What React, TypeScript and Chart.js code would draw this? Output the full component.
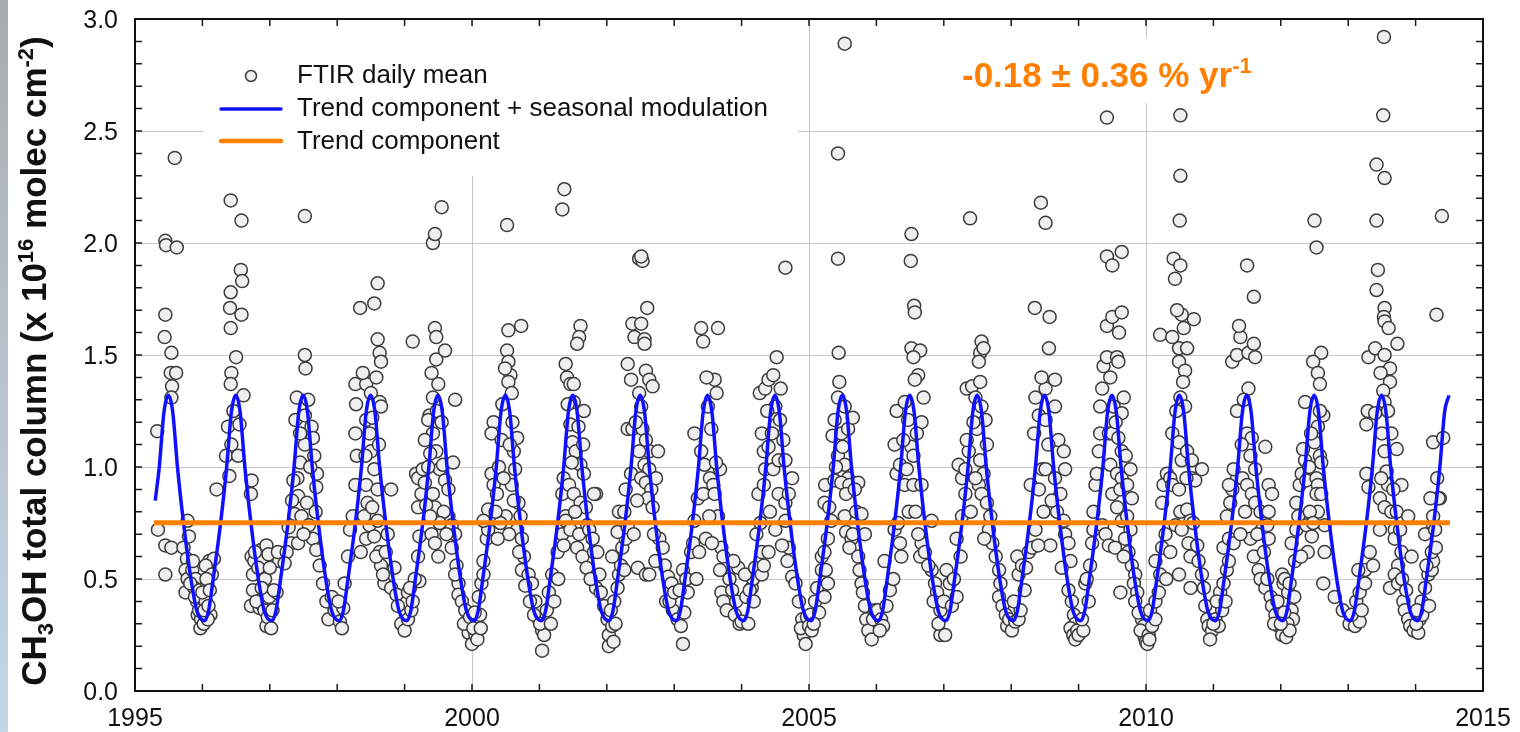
import React, { useEffect, useRef } from "react";
import { Chart, registerables } from "chart.js";

Chart.register(...registerables);

// ---------- axes ----------
const X_MIN = 1995;
const X_MAX = 2015;
const Y_MIN = 0;
const Y_MAX = 3;
const xTickLabels = [1995, 2000, 2005, 2010, 2015];
const yTickLabels = [0, 0.5, 1.0, 1.5, 2.0, 2.5, 3.0];
const xGridValues = [2000, 2005, 2010];
const yGridValues = [0.5, 1.0, 1.5, 2.0, 2.5];

// ---------- fitted curves ----------
// one seasonal cycle of "trend + seasonal modulation": phase within the year, value
const seasonalPhase = [0.03, 0.09, 0.16, 0.27, 0.36, 0.43, 0.495, 0.56, 0.63, 0.72, 0.83, 0.92];
const seasonalValue = [0.314, 0.355, 0.5, 0.75, 1.0, 1.245, 1.32, 1.245, 1.0, 0.75, 0.5, 0.355];
const curveYears = [1995, 1996, 1997, 1998, 1999, 2000, 2001, 2002, 2003, 2004, 2005, 2006, 2007, 2008, 2009, 2010, 2011, 2012, 2013, 2014];
const curveStart = [1995.3, 0.85];
const curveEndYear = 2014.5;
const trendX = [1995.28, 2014.51];
const trendY = [0.751, 0.751];

// ---------- FTIR daily means [decimal year, value] ----------
const ftir1995 = [[1995.33,1.16],[1995.34,0.72],[1995.44,1.58],[1995.45,1.68],[1995.45,2.01],[1995.46,1.99],[1995.59,2.38],[1995.62,1.98],[1995.54,1.51],[1995.53,1.42],[1995.61,1.42],[1995.55,1.36],[1995.54,1.31],[1995.45,0.65],[1995.54,0.64],[1995.45,0.52],[1995.78,0.76],[1995.80,0.69],[1995.72,0.64],[1995.77,0.59],[1995.75,0.54],[1995.78,0.50],[1995.75,0.44],[1995.85,0.54],[1995.90,0.50],[1995.92,0.40],[1995.93,0.34],[1995.98,0.32],[1995.95,0.36],[1995.88,0.46],[1995.82,0.48],[1995.86,0.58],[1995.89,0.42],[1995.96,0.45],[1995.97,0.28]];
const ftir1996 = [[1996.02,0.30],[1996.05,0.40],[1996.07,0.48],[1996.10,0.58],[1996.17,0.59],[1996.05,0.56],[1996.21,0.90],[1996.00,0.44],[1996.12,0.34],[1996.08,0.32],[1996.14,0.52],[1996.42,2.19],[1996.58,2.10],[1996.57,1.88],[1996.59,1.83],[1996.42,1.78],[1996.41,1.71],[1996.58,1.68],[1996.42,1.62],[1996.50,1.49],[1996.43,1.42],[1996.42,1.37],[1996.61,1.32],[1996.38,1.18],[1996.43,1.10],[1996.55,1.19],[1996.73,0.94],[1996.72,0.88],[1996.73,0.60],[1996.77,0.58],[1996.75,0.52],[1996.87,0.63],[1996.95,0.65],[1996.72,0.38],[1996.85,0.37],[1996.95,0.29],[1996.87,0.39],[1996.75,0.45],[1996.90,0.58],[1996.98,0.61],[1996.93,0.50],[1996.99,0.42],[1996.03,0.36],[1996.06,0.50],[1996.11,0.45],[1996.09,0.38],[1996.78,0.62],[1996.80,0.40],[1996.83,0.55],[1996.88,0.46],[1996.92,0.36],[1996.97,0.33],[1996.35,1.05],[1996.40,0.96],[1996.46,1.25],[1996.53,1.05]];
const ftir1997 = [[1997.02,0.28],[1997.04,0.36],[1997.10,0.44],[1997.14,0.58],[1997.12,0.62],[1997.06,0.45],[1997.00,0.55],[1997.52,2.12],[1997.52,1.50],[1997.53,1.44],[1997.40,1.31],[1997.38,1.21],[1997.52,1.23],[1997.62,1.18],[1997.64,1.13],[1997.52,1.10],[1997.41,0.95],[1997.42,0.87],[1997.55,0.84],[1997.70,0.97],[1997.69,0.91],[1997.68,0.80],[1997.28,0.73],[1997.32,0.66],[1997.37,0.79],[1997.42,0.66],[1997.25,0.62],[1997.22,0.57],[1997.64,0.68],[1997.69,0.63],[1997.74,0.56],[1997.79,0.48],[1997.84,0.40],[1997.87,0.32],[1997.92,0.42],[1997.96,0.36],[1997.35,0.94],[1997.45,1.02],[1997.33,0.85],[1997.47,0.78],[1997.58,0.74],[1997.60,1.00],[1997.45,1.15],[1997.57,1.30],[1997.66,1.05],[1997.50,0.70]];
const ftir1998 = [[1998.04,0.31],[1998.09,0.37],[1998.11,0.48],[1998.16,0.60],[1998.19,0.72],[1998.23,0.78],[1998.27,0.92],[1998.29,1.05],[1998.27,1.15],[1998.28,1.28],[1998.27,1.37],[1998.34,1.71],[1998.43,1.37],[1998.55,1.73],[1998.60,1.82],[1998.60,1.57],[1998.63,1.51],[1998.65,1.47],[1998.50,1.33],[1998.63,1.29],[1998.65,1.27],[1998.43,1.21],[1998.48,1.15],[1998.50,1.07],[1998.55,0.99],[1998.43,0.92],[1998.60,0.90],[1998.45,0.84],[1998.80,0.90],[1998.48,0.74],[1998.60,0.76],[1998.43,0.68],[1998.55,0.69],[1998.63,0.62],[1998.65,0.56],[1998.70,0.48],[1998.85,0.55],[1998.68,0.52],[1998.80,0.46],[1998.88,0.43],[1998.90,0.38],[1998.95,0.30],[1998.02,0.40],[1998.07,0.28],[1998.38,1.42],[1998.42,1.05],[1998.52,1.22],[1998.58,1.40],[1998.62,1.10],[1998.40,0.78],[1998.52,0.82],[1998.58,0.60],[1998.35,0.62],[1998.72,0.62],[1998.75,0.70]];
const ftir1999 = [[1999.00,0.27],[1999.05,0.32],[1999.10,0.36],[1999.05,0.44],[1999.12,0.40],[1999.12,1.56],[1999.22,0.49],[1999.20,0.60],[1999.22,0.69],[1999.20,0.82],[1999.27,0.94],[1999.25,0.88],[1999.37,1.23],[1999.35,1.21],[1999.42,2.00],[1999.45,2.04],[1999.55,2.16],[1999.45,1.62],[1999.47,1.58],[1999.47,1.48],[1999.60,1.52],[1999.50,1.37],[1999.42,1.31],[1999.75,1.30],[1999.42,1.15],[1999.47,1.07],[1999.52,0.99],[1999.57,1.01],[1999.42,0.88],[1999.45,0.82],[1999.60,0.94],[1999.65,0.90],[1999.72,1.02],[1999.65,0.78],[1999.70,0.74],[1999.75,0.70],[1999.70,0.64],[1999.77,0.56],[1999.80,0.48],[1999.75,0.52],[1999.80,0.43],[1999.85,0.40],[1999.90,0.36],[1999.92,0.31],[1999.95,0.26],[1999.17,0.97],[1999.20,0.95],[1999.27,0.99],[1999.30,0.93],[1999.32,0.83],[1999.35,1.00],[1999.38,1.06],[1999.30,1.12],[1999.40,0.70],[1999.45,0.66],[1999.50,0.60],[1999.40,1.42],[1999.48,1.25],[1999.55,1.20],[1999.58,0.80],[1999.62,0.70],[1999.52,0.75],[1999.38,0.78],[1999.15,0.50],[1999.08,0.46],[1999.88,0.30],[1999.97,0.33]];
const ftir2000 = [[2000.00,0.21],[2000.05,0.25],[2000.07,0.32],[2000.12,0.34],[2000.10,0.42],[2000.14,0.48],[2000.17,0.52],[2000.17,0.58],[2000.22,0.68],[2000.24,0.72],[2000.24,0.81],[2000.17,0.76],[2000.32,1.20],[2000.29,1.15],[2000.29,0.97],[2000.32,0.92],[2000.37,0.88],[2000.52,2.08],[2000.54,1.61],[2000.73,1.63],[2000.52,1.52],[2000.54,1.47],[2000.57,1.41],[2000.49,1.44],[2000.54,1.38],[2000.59,1.33],[2000.67,1.13],[2000.62,1.07],[2000.64,0.99],[2000.59,0.92],[2000.69,0.84],[2000.72,0.78],[2000.67,0.72],[2000.74,0.68],[2000.77,0.60],[2000.74,0.54],[2000.84,0.52],[2000.89,0.48],[2000.94,0.40],[2000.99,0.32],[2000.40,1.00],[2000.45,1.28],[2000.47,0.95],[2000.50,0.78],[2000.55,0.70],[2000.60,1.20],[2000.42,0.75],[2000.38,0.68],[2000.02,0.28],[2000.08,0.23],[2000.35,0.80],[2000.44,1.12],[2000.56,1.10],[2000.62,0.85],[2000.70,0.62],[2000.79,0.47],[2000.86,0.40],[2000.92,0.34],[2000.04,0.35],[2000.13,0.28]];
const ftir2001 = [[2001.04,0.27],[2001.04,0.18],[2001.11,0.36],[2001.14,0.44],[2001.19,0.52],[2001.27,0.62],[2001.34,0.70],[2001.39,0.78],[2001.34,0.88],[2001.36,0.95],[2001.39,1.46],[2001.61,1.63],[2001.34,2.15],[2001.37,2.24],[2001.41,1.40],[2001.46,1.37],[2001.51,1.37],[2001.59,1.58],[2001.56,1.55],[2001.51,1.29],[2001.66,1.25],[2001.46,1.19],[2001.49,1.11],[2001.54,1.07],[2001.61,1.01],[2001.66,0.97],[2001.44,0.92],[2001.51,0.88],[2001.61,0.84],[2001.69,0.82],[2001.39,0.76],[2001.46,0.72],[2001.59,0.70],[2001.71,0.74],[2001.56,0.64],[2001.64,0.60],[2001.36,0.65],[2001.74,0.72],[2001.79,0.68],[2001.81,0.62],[2001.84,0.88],[2001.81,0.88],[2001.86,0.62],[2001.89,0.52],[2001.84,0.46],[2001.91,0.44],[2001.96,0.38],[2001.07,0.25],[2001.01,0.30],[2001.48,1.02],[2001.53,0.80],[2001.42,1.28],[2001.58,1.18],[2001.65,1.10],[2001.22,0.40],[2001.28,0.50],[2001.17,0.30],[2001.70,0.55],[2001.76,0.50]];
const ftir2002 = [[2002.01,0.32],[2002.03,0.25],[2002.03,0.20],[2002.08,0.29],[2002.11,0.40],[2002.16,0.46],[2002.06,0.36],[2002.18,0.52],[2002.21,0.56],[2002.26,0.54],[2002.23,0.64],[2002.28,0.68],[2002.16,0.71],[2002.08,0.60],[2002.18,0.80],[2002.31,0.73],[2002.26,0.80],[2002.28,0.90],[2002.36,0.97],[2002.31,1.17],[2002.38,1.17],[2002.31,1.46],[2002.36,1.39],[2002.38,1.64],[2002.51,1.64],[2002.41,1.58],[2002.56,1.57],[2002.56,1.55],[2002.60,1.71],[2002.48,1.93],[2002.53,1.92],[2002.51,1.94],[2002.58,1.43],[2002.63,1.39],[2002.68,1.36],[2002.48,1.33],[2002.51,1.27],[2002.53,1.17],[2002.58,1.12],[2002.63,1.07],[2002.48,1.07],[2002.56,1.01],[2002.63,0.99],[2002.76,1.07],[2002.51,0.95],[2002.58,0.93],[2002.66,0.90],[2002.73,0.95],[2002.61,0.86],[2002.68,0.82],[2002.46,0.55],[2002.58,0.52],[2002.63,0.52],[2002.78,0.68],[2002.83,0.64],[2002.86,0.56],[2002.91,0.51],[2002.96,0.48],[2002.88,0.40],[2002.98,0.36],[2002.43,1.20],[2002.45,0.85],[2002.40,0.70],[2002.70,0.70],[2002.72,0.58],[2002.93,0.40],[2002.13,0.30],[2002.10,0.22]];
const ftir2003 = [[2003.00,0.44],[2003.05,0.32],[2003.10,0.29],[2003.13,0.21],[2003.13,0.54],[2003.18,0.50],[2003.20,0.44],[2003.25,0.62],[2003.28,0.66],[2003.30,0.76],[2003.30,1.15],[2003.40,1.62],[2003.43,1.56],[2003.65,1.62],[2003.60,1.39],[2003.63,1.33],[2003.50,1.27],[2003.55,1.17],[2003.40,1.07],[2003.45,1.01],[2003.53,0.95],[2003.58,0.92],[2003.68,0.99],[2003.35,0.86],[2003.43,0.88],[2003.60,0.88],[2003.65,0.78],[2003.70,0.64],[2003.73,0.60],[2003.68,0.54],[2003.70,0.44],[2003.73,0.40],[2003.78,0.36],[2003.90,0.34],[2003.82,0.50],[2003.86,0.45],[2003.92,0.40],[2003.95,0.55],[2003.88,0.58],[2003.48,1.40],[2003.52,0.78],[2003.47,0.68],[2003.56,0.66],[2003.62,1.02],[2003.37,0.62],[2003.33,0.50],[2003.15,0.35],[2003.08,0.45],[2003.97,0.30]];
const ftir2004 = [[2004.00,0.31],[2004.10,0.30],[2004.07,0.42],[2004.15,0.46],[2004.17,0.50],[2004.05,0.52],[2004.12,0.45],[2004.20,0.55],[2004.22,0.70],[2004.18,0.40],[2004.30,0.52],[2004.33,0.56],[2004.30,0.62],[2004.28,0.75],[2004.25,0.88],[2004.33,0.92],[2004.35,0.99],[2004.30,1.15],[2004.33,1.07],[2004.40,1.09],[2004.27,1.33],[2004.35,1.35],[2004.40,1.39],[2004.47,1.41],[2004.52,1.49],[2004.65,1.89],[2004.50,1.27],[2004.52,1.19],[2004.57,1.21],[2004.47,0.99],[2004.55,1.03],[2004.65,1.03],[2004.75,0.95],[2004.55,0.88],[2004.65,0.84],[2004.70,0.88],[2004.65,0.76],[2004.70,0.64],[2004.68,0.58],[2004.75,0.51],[2004.80,0.48],[2004.85,0.40],[2004.90,0.32],[2004.92,0.25],[2004.95,0.21],[2004.38,1.25],[2004.45,1.15],[2004.42,0.80],[2004.50,0.72],[2004.60,0.65],[2004.62,1.12],[2004.58,1.35],[2004.40,0.62],[2004.88,0.28],[2004.97,0.33]];
const ftir2005 = [[2005.00,0.29],[2005.02,0.34],[2005.04,0.27],[2005.09,0.40],[2005.12,0.46],[2005.19,0.54],[2005.19,0.60],[2005.24,0.92],[2005.53,2.89],[2005.43,2.40],[2005.43,1.93],[2005.44,1.51],[2005.43,1.31],[2005.53,1.27],[2005.38,1.21],[2005.35,1.14],[2005.48,1.15],[2005.58,1.17],[2005.65,1.22],[2005.43,1.05],[2005.50,1.09],[2005.53,1.01],[2005.58,0.95],[2005.38,0.94],[2005.48,0.93],[2005.60,0.92],[2005.73,0.93],[2005.23,0.84],[2005.30,0.82],[2005.33,0.76],[2005.53,0.78],[2005.55,0.71],[2005.63,0.68],[2005.60,0.64],[2005.65,0.70],[2005.70,0.80],[2005.78,0.79],[2005.83,0.70],[2005.28,0.68],[2005.23,0.62],[2005.25,0.54],[2005.28,0.48],[2005.23,0.42],[2005.73,0.60],[2005.75,0.54],[2005.78,0.48],[2005.80,0.44],[2005.83,0.38],[2005.85,0.32],[2005.88,0.27],[2005.93,0.23],[2005.95,0.32],[2005.98,0.36],[2005.15,0.35],[2005.07,0.30],[2005.45,1.38],[2005.40,1.00],[2005.55,0.88],[2005.68,0.90]];
const ftir2006 = [[2006.02,0.36],[2006.07,0.32],[2006.10,0.29],[2006.15,0.38],[2006.12,0.58],[2006.27,0.72],[2006.32,0.75],[2006.35,0.66],[2006.37,0.60],[2006.30,0.97],[2006.35,1.01],[2006.42,0.92],[2006.27,1.10],[2006.30,1.25],[2006.42,1.29],[2006.47,1.21],[2006.52,2.04],[2006.51,1.92],[2006.56,1.72],[2006.57,1.69],[2006.52,1.53],[2006.65,1.52],[2006.55,1.49],[2006.62,1.41],[2006.57,1.39],[2006.70,1.31],[2006.67,1.20],[2006.52,1.09],[2006.55,1.05],[2006.45,0.99],[2006.55,0.92],[2006.67,0.92],[2006.67,0.66],[2006.65,0.60],[2006.72,0.62],[2006.82,0.76],[2006.82,0.54],[2006.87,0.48],[2006.90,0.44],[2006.95,0.36],[2006.95,0.25],[2006.05,0.27],[2006.20,0.45],[2006.40,1.12],[2006.48,0.80],[2006.58,0.80],[2006.60,1.15],[2006.62,0.70],[2006.77,0.56],[2006.85,0.40],[2006.92,0.30],[2006.25,0.50]];
const ftir2007 = [[2007.04,0.54],[2007.09,0.48],[2007.00,0.40],[2007.12,0.38],[2007.19,0.42],[2007.19,0.68],[2007.27,0.78],[2007.32,0.88],[2007.27,0.95],[2007.22,1.01],[2007.32,0.99],[2007.37,1.07],[2007.34,1.12],[2007.34,1.35],[2007.42,1.36],[2007.47,1.31],[2007.39,2.11],[2007.54,1.51],[2007.56,1.56],[2007.59,1.53],[2007.52,1.47],[2007.54,1.38],[2007.56,1.27],[2007.62,1.21],[2007.49,1.17],[2007.54,1.03],[2007.59,0.97],[2007.52,0.92],[2007.56,0.88],[2007.64,0.84],[2007.69,0.78],[2007.67,0.72],[2007.72,0.66],[2007.77,0.60],[2007.82,0.54],[2007.84,0.48],[2007.82,0.42],[2007.87,0.38],[2007.92,0.34],[2007.94,0.29],[2007.02,0.25],[2007.44,1.20],[2007.47,0.95],[2007.40,0.80],[2007.60,0.68],[2007.64,1.10],[2007.97,0.32],[2007.15,0.50],[2007.25,0.60]];
const ftir2008 = [[2008.01,0.27],[2008.06,0.31],[2008.11,0.32],[2008.14,0.36],[2008.11,0.52],[2008.09,0.60],[2008.16,0.56],[2008.26,0.62],[2008.31,0.64],[2008.36,0.72],[2008.29,0.92],[2008.41,0.90],[2008.46,0.99],[2008.51,0.99],[2008.34,1.15],[2008.41,1.23],[2008.51,1.21],[2008.36,1.31],[2008.51,1.35],[2008.44,2.18],[2008.51,2.09],[2008.35,1.71],[2008.57,1.67],[2008.56,1.53],[2008.65,1.39],[2008.65,1.27],[2008.70,1.12],[2008.78,1.07],[2008.80,0.99],[2008.65,0.95],[2008.73,0.88],[2008.68,0.80],[2008.78,0.76],[2008.80,0.70],[2008.85,0.66],[2008.88,0.58],[2008.90,0.40],[2008.93,0.34],[2008.95,0.30],[2008.88,0.28],[2008.92,0.25],[2008.95,0.23],[2008.98,0.27],[2008.04,0.40],[2008.20,0.45],[2008.45,1.40],[2008.55,1.10],[2008.60,0.85],[2008.48,0.80],[2008.58,0.65],[2008.40,0.65],[2008.75,0.55],[2008.85,0.45],[2008.22,0.55]];
const ftir2009 = [[2009.00,0.25],[2009.07,0.27],[2009.05,0.32],[2009.10,0.48],[2009.12,0.50],[2009.17,0.56],[2009.20,0.66],[2009.22,0.72],[2009.22,0.80],[2009.25,0.92],[2009.27,0.97],[2009.30,1.07],[2009.35,0.74],[2009.40,0.70],[2009.32,1.15],[2009.32,1.27],[2009.35,1.35],[2009.37,1.45],[2009.42,1.49],[2009.45,1.15],[2009.42,1.63],[2009.50,1.67],[2009.64,1.69],[2009.42,1.94],[2009.50,1.90],[2009.64,1.96],[2009.42,2.56],[2009.57,1.49],[2009.59,1.47],[2009.52,1.27],[2009.67,1.31],[2009.64,1.24],[2009.50,1.15],[2009.59,1.13],[2009.64,1.07],[2009.47,1.01],[2009.57,0.97],[2009.64,0.95],[2009.77,0.99],[2009.50,0.88],[2009.62,0.90],[2009.72,0.92],[2009.79,0.86],[2009.57,0.82],[2009.64,0.76],[2009.72,0.78],[2009.77,0.72],[2009.45,0.65],[2009.54,0.64],[2009.62,0.44],[2009.69,0.68],[2009.74,0.62],[2009.79,0.56],[2009.84,0.52],[2009.82,0.48],[2009.87,0.44],[2009.84,0.40],[2009.94,0.32],[2009.97,0.29],[2009.98,0.24],[2009.47,1.40],[2009.55,1.20],[2009.60,1.60],[2009.70,1.05],[2009.67,0.60],[2009.89,0.35],[2009.92,0.27],[2009.15,0.40]];
const ftir2010 = [[2010.04,0.25],[2010.09,0.29],[2010.06,0.36],[2010.00,0.22],[2010.02,0.21],[2010.05,0.23],[2010.14,0.32],[2010.14,0.40],[2010.19,0.44],[2010.21,0.52],[2010.14,0.58],[2010.24,0.64],[2010.29,0.70],[2010.24,0.84],[2010.26,0.92],[2010.31,0.97],[2010.36,0.95],[2010.49,0.52],[2010.66,0.46],[2010.21,1.59],[2010.39,1.58],[2010.41,1.93],[2010.51,1.90],[2010.43,1.84],[2010.51,2.57],[2010.51,2.30],[2010.50,2.10],[2010.49,1.53],[2010.56,1.62],[2010.71,1.66],[2010.53,1.68],[2010.61,1.53],[2010.49,1.47],[2010.58,1.43],[2010.51,1.31],[2010.58,1.27],[2010.39,1.15],[2010.49,1.11],[2010.53,1.03],[2010.61,1.07],[2010.68,1.03],[2010.39,0.92],[2010.49,0.90],[2010.51,0.80],[2010.61,0.81],[2010.66,0.76],[2010.44,0.74],[2010.53,0.72],[2010.63,0.66],[2010.68,0.95],[2010.73,0.94],[2010.83,0.99],[2010.66,0.60],[2010.78,0.58],[2010.83,0.52],[2010.86,0.46],[2010.88,0.38],[2010.91,0.32],[2010.93,0.29],[2010.98,0.27],[2010.45,1.25],[2010.55,1.38],[2010.46,1.70],[2010.60,0.95],[2010.70,0.75],[2010.76,0.65],[2010.95,0.23],[2010.30,0.50],[2010.36,0.62]];
const ftir2011 = [[2011.03,0.32],[2011.08,0.29],[2011.13,0.36],[2011.10,0.44],[2011.15,0.48],[2011.20,0.54],[2011.23,0.58],[2011.15,0.64],[2011.23,0.68],[2011.30,0.66],[2011.20,0.78],[2011.25,0.84],[2011.28,0.90],[2011.35,0.95],[2011.30,0.99],[2011.23,0.92],[2011.35,1.25],[2011.28,1.47],[2011.35,1.50],[2011.40,1.58],[2011.38,1.63],[2011.50,1.90],[2011.60,1.76],[2011.52,1.51],[2011.60,1.55],[2011.62,1.49],[2011.52,1.35],[2011.50,1.15],[2011.57,1.13],[2011.55,1.05],[2011.62,0.99],[2011.43,0.95],[2011.50,0.92],[2011.57,0.88],[2011.62,0.84],[2011.70,0.80],[2011.82,0.80],[2011.72,0.72],[2011.80,0.74],[2011.82,0.68],[2011.55,0.68],[2011.60,0.60],[2011.67,0.54],[2011.77,1.09],[2011.82,0.92],[2011.87,0.88],[2011.70,0.50],[2011.77,0.46],[2011.85,0.42],[2011.87,0.38],[2011.92,0.34],[2011.97,0.29],[2011.05,0.40],[2011.00,0.30],[2011.45,1.30],[2011.42,1.10],[2011.47,0.80],[2011.40,0.70],[2011.65,0.70],[2011.75,0.62],[2011.80,0.50],[2011.90,0.30],[2011.95,0.40],[2011.18,0.40]];
const ftir2012 = [[2012.02,0.25],[2012.04,0.48],[2012.02,0.52],[2012.06,0.50],[2012.11,0.44],[2012.13,0.48],[2012.16,0.36],[2012.18,0.32],[2012.08,0.24],[2012.21,0.58],[2012.16,0.66],[2012.23,0.72],[2012.26,0.78],[2012.23,0.84],[2012.28,0.92],[2012.31,0.97],[2012.36,1.03],[2012.38,0.74],[2012.46,0.69],[2012.33,1.08],[2012.38,0.94],[2012.36,1.29],[2012.50,2.10],[2012.53,1.98],[2012.60,1.51],[2012.48,1.47],[2012.55,1.42],[2012.58,1.37],[2012.63,1.23],[2012.55,1.18],[2012.50,1.11],[2012.58,1.05],[2012.60,1.02],[2012.53,0.95],[2012.55,0.92],[2012.53,0.88],[2012.55,0.80],[2012.43,0.80],[2012.65,0.74],[2012.65,0.62],[2012.63,0.48],[2012.80,0.42],[2012.92,0.36],[2012.10,0.30],[2012.13,0.27],[2012.45,1.15],[2012.42,1.00],[2012.48,0.75],[2012.60,0.88],[2012.58,1.25],[2012.40,0.62],[2012.30,0.60],[2012.05,0.35],[2012.20,0.42],[2012.00,0.30]];
const ftir2013 = [[2013.02,0.30],[2013.10,0.29],[2013.17,0.31],[2013.12,0.40],[2013.17,0.44],[2013.25,0.48],[2013.25,0.54],[2013.15,0.54],[2013.37,0.56],[2013.27,0.97],[2013.30,0.91],[2013.29,1.25],[2013.27,1.19],[2013.40,1.24],[2013.30,1.49],[2013.40,1.53],[2013.42,2.10],[2013.42,2.35],[2013.54,2.29],[2013.53,2.92],[2013.52,2.57],[2013.44,1.88],[2013.42,1.79],[2013.54,1.71],[2013.53,1.67],[2013.54,1.65],[2013.73,1.55],[2013.54,1.50],[2013.62,1.44],[2013.62,1.38],[2013.52,1.34],[2013.54,1.29],[2013.59,1.25],[2013.64,1.15],[2013.72,1.08],[2013.54,1.07],[2013.79,0.92],[2013.59,0.92],[2013.47,0.86],[2013.54,0.82],[2013.64,0.80],[2013.69,0.72],[2013.72,0.80],[2013.47,0.72],[2013.69,0.68],[2013.79,0.62],[2013.74,0.56],[2013.69,0.52],[2013.89,0.78],[2013.94,0.60],[2013.62,0.46],[2013.74,0.48],[2013.82,0.40],[2013.84,0.36],[2013.89,0.32],[2013.92,0.29],[2013.97,0.27],[2013.05,0.34],[2013.48,1.42],[2013.50,1.15],[2013.57,0.98],[2013.49,0.95],[2013.60,1.62],[2013.67,0.90],[2013.77,0.72],[2013.80,0.50],[2013.86,0.45],[2013.20,0.36],[2013.32,0.62]];
const ftir2014 = [[2014.04,0.26],[2014.06,0.32],[2014.09,0.40],[2014.14,0.46],[2014.19,0.52],[2014.24,0.54],[2014.26,0.58],[2014.24,0.62],[2014.14,0.70],[2014.26,0.74],[2014.29,0.72],[2014.26,0.78],[2014.36,0.86],[2014.34,0.86],[2014.26,1.11],[2014.41,1.13],[2014.31,1.68],[2014.39,2.12],[2014.01,0.30],[2014.10,0.34],[2014.16,0.56],[2014.20,0.38],[2014.30,0.64],[2014.32,0.95],[2014.22,0.86],[2014.02,0.36]];

// ---------- texts ----------
const legendLabels = ["FTIR daily mean", "Trend component + seasonal modulation", "Trend component"];
const trendText = "-0.18 \u00B1 0.36 % yr";
const trendTextSup = "-1";

const W = 1520;
const H = 732;
const FONT = "'Liberation Sans', Arial, Helvetica, sans-serif";
const BLUE = "#1010ff";
const ORANGE = "#ff8000";

const allFtir = [
  ...ftir1995, ...ftir1996, ...ftir1997, ...ftir1998, ...ftir1999, ...ftir2000, ...ftir2001,
  ...ftir2002, ...ftir2003, ...ftir2004, ...ftir2005, ...ftir2006, ...ftir2007, ...ftir2008,
  ...ftir2009, ...ftir2010, ...ftir2011, ...ftir2012, ...ftir2013, ...ftir2014,
];

function buildCurve() {
  const pts: { x: number; y: number }[] = [{ x: curveStart[0], y: curveStart[1] }];
  for (const yr of curveYears) {
    for (let k = 0; k < seasonalPhase.length; k++) {
      const x = yr + seasonalPhase[k];
      if (x > curveStart[0] && x <= curveEndYear + 1e-9) pts.push({ x, y: seasonalValue[k] });
    }
  }
  return pts;
}

function drawRich(ctx: CanvasRenderingContext2D, segs: { t: string; size: number; dy: number }[], weight: string, x: number, y: number, align: "left" | "center") {
  let total = 0;
  for (const s of segs) {
    ctx.font = `${weight} ${s.size}px ${FONT}`;
    total += ctx.measureText(s.t).width;
  }
  let cx = align === "center" ? x - total / 2 : x;
  ctx.textAlign = "left";
  ctx.textBaseline = "alphabetic";
  for (const s of segs) {
    ctx.font = `${weight} ${s.size}px ${FONT}`;
    ctx.fillText(s.t, cx, y + s.dy);
    cx += ctx.measureText(s.t).width;
  }
}

const decorPlugin = {
  id: "decor",
  beforeDraw(chart: any) {
    const ctx = chart.ctx as CanvasRenderingContext2D;
    ctx.save();
    ctx.fillStyle = "#ffffff";
    ctx.fillRect(0, 0, W, H);
    const g = ctx.createLinearGradient(0, 0, 0, H);
    g.addColorStop(0, "#a7abae");
    g.addColorStop(0.35, "#b3bcc4");
    g.addColorStop(0.7, "#bccbd8");
    g.addColorStop(1, "#c3d6e8");
    ctx.fillStyle = g;
    ctx.fillRect(0, 0, 8, H);
    ctx.restore();
  },
  beforeDatasetsDraw(chart: any) {
    const ctx = chart.ctx as CanvasRenderingContext2D;
    const { left, right, top, bottom } = chart.chartArea;
    const xs = chart.scales.x;
    const ys = chart.scales.y;
    ctx.save();
    ctx.strokeStyle = "#c8c8c8";
    ctx.lineWidth = 1;
    for (const v of yGridValues) {
      const py = Math.round(ys.getPixelForValue(v)) + 0.5;
      ctx.beginPath();
      ctx.moveTo(left, py);
      ctx.lineTo(right, py);
      ctx.stroke();
    }
    for (const v of xGridValues) {
      const px = Math.round(xs.getPixelForValue(v)) + 0.5;
      ctx.beginPath();
      ctx.moveTo(px, top);
      ctx.lineTo(px, bottom);
      ctx.stroke();
    }
    // white boxes behind legend and annotation
    ctx.fillStyle = "#ffffff";
    ctx.fillRect(203, 27, 595, 149);
    ctx.fillRect(952, 38, 318, 65);
    ctx.restore();
  },
  afterDatasetsDraw(chart: any) {
    const ctx = chart.ctx as CanvasRenderingContext2D;
    const { left, right, top, bottom } = chart.chartArea;
    const xs = chart.scales.x;
    const ys = chart.scales.y;
    ctx.save();
    // ticks
    ctx.strokeStyle = "#1a1a1a";
    ctx.lineWidth = 1.5;
    const TL = 7;
    for (let yr = X_MIN + 1; yr < X_MAX; yr++) {
      const px = xs.getPixelForValue(yr);
      ctx.beginPath();
      ctx.moveTo(px, bottom);
      ctx.lineTo(px, bottom - TL);
      ctx.moveTo(px, top);
      ctx.lineTo(px, top + TL);
      ctx.stroke();
    }
    for (let i = 1; i < 30; i++) {
      const py = ys.getPixelForValue(i / 10);
      ctx.beginPath();
      ctx.moveTo(left, py);
      ctx.lineTo(left + TL, py);
      ctx.moveTo(right, py);
      ctx.lineTo(right - TL, py);
      ctx.stroke();
    }
    // frame
    ctx.lineWidth = 2;
    ctx.strokeStyle = "#111111";
    ctx.strokeRect(left, top, right - left, bottom - top);

    // tick labels
    ctx.fillStyle = "#111111";
    ctx.font = `25px ${FONT}`;
    ctx.textBaseline = "alphabetic";
    ctx.textAlign = "right";
    for (const v of yTickLabels) {
      ctx.fillText(v.toFixed(1), 118, ys.getPixelForValue(v) + 9);
    }
    ctx.textAlign = "center";
    for (const v of xTickLabels) {
      ctx.fillText(String(v), xs.getPixelForValue(v), 726);
    }

    // y axis title
    ctx.save();
    ctx.translate(46, 361);
    ctx.rotate(-Math.PI / 2);
    ctx.fillStyle = "#111111";
    const S = 35;
    const s2 = 22;
    drawRich(
      ctx,
      [
        { t: "CH", size: S, dy: 0 },
        { t: "3", size: s2, dy: 7 },
        { t: "OH total column (x 10", size: S, dy: 0 },
        { t: "16", size: s2, dy: -13 },
        { t: " molec cm", size: S, dy: 0 },
        { t: "-2", size: s2, dy: -13 },
        { t: ")", size: S, dy: 0 },
      ],
      "bold",
      0,
      0,
      "center"
    );
    ctx.restore();

    // legend
    ctx.beginPath();
    ctx.arc(251, 76, 5.5, 0, Math.PI * 2);
    ctx.fillStyle = "#efefef";
    ctx.fill();
    ctx.lineWidth = 1.5;
    ctx.strokeStyle = "#3c3c3c";
    ctx.stroke();
    ctx.lineCap = "round";
    ctx.strokeStyle = BLUE;
    ctx.lineWidth = 3.5;
    ctx.beginPath();
    ctx.moveTo(221, 109);
    ctx.lineTo(281, 109);
    ctx.stroke();
    ctx.strokeStyle = ORANGE;
    ctx.lineWidth = 4.5;
    ctx.beginPath();
    ctx.moveTo(221, 141);
    ctx.lineTo(281, 141);
    ctx.stroke();
    ctx.fillStyle = "#111111";
    ctx.font = `26px ${FONT}`;
    ctx.textAlign = "left";
    ctx.textBaseline = "middle";
    ctx.fillText(legendLabels[0], 297, 76);
    ctx.fillText(legendLabels[1], 297, 109);
    ctx.fillText(legendLabels[2], 297, 142);

    // trend annotation
    ctx.fillStyle = ORANGE;
    drawRich(
      ctx,
      [
        { t: trendText, size: 35, dy: 0 },
        { t: trendTextSup, size: 22, dy: -14 },
      ],
      "bold",
      962,
      87,
      "left"
    );
    ctx.restore();
  },
};

export default function App() {
  const ref = useRef<HTMLCanvasElement | null>(null);
  useEffect(() => {
    if (!ref.current) return;
    const chart = new Chart(ref.current, {
      type: "scatter",
      data: {
        datasets: [
          {
            label: legendLabels[2],
            data: trendX.map((x, i) => ({ x, y: trendY[i] })),
            showLine: true,
            borderColor: ORANGE,
            backgroundColor: ORANGE,
            borderWidth: 5,
            pointRadius: 0,
            order: 0,
          },
          {
            label: legendLabels[1],
            data: buildCurve(),
            showLine: true,
            borderColor: BLUE,
            backgroundColor: BLUE,
            borderWidth: 3.5,
            pointRadius: 0,
            cubicInterpolationMode: "monotone",
            order: 1,
          },
          {
            label: legendLabels[0],
            data: allFtir.map((p) => ({ x: p[0], y: p[1] })),
            showLine: false,
            pointRadius: 6.5,
            pointBorderWidth: 1.5,
            backgroundColor: "#efefef",
            borderColor: "#3c3c3c",
            order: 2,
          },
        ],
      } as any,
      options: {
        responsive: false,
        animation: false,
        devicePixelRatio: 1,
        layout: { padding: { left: 135, right: 37, top: 19, bottom: 41 } },
        plugins: { legend: { display: false }, tooltip: { enabled: false }, title: { display: false } },
        scales: {
          x: { type: "linear", min: X_MIN, max: X_MAX, display: false },
          y: { type: "linear", min: Y_MIN, max: Y_MAX, display: false },
        },
        events: [],
      } as any,
      plugins: [decorPlugin],
    });
    return () => chart.destroy();
  }, []);
  return (
    <div style={{ position: "fixed", left: 0, top: 0, width: W, height: H, background: "#fff" }}>
      <canvas ref={ref} width={W} height={H} style={{ width: W, height: H, display: "block" }} />
    </div>
  );
}
